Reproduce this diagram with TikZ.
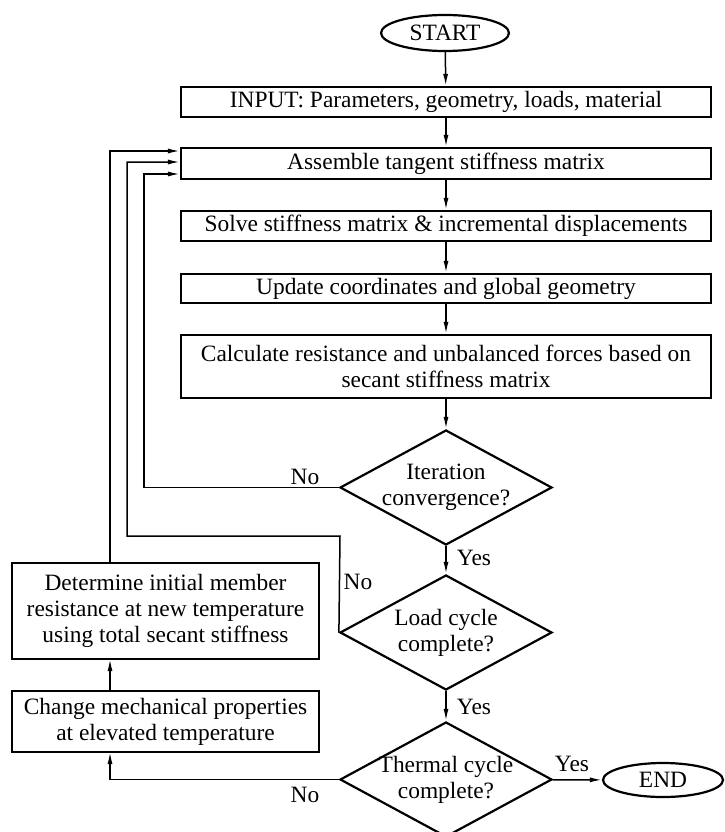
\documentclass[tikz,border=0pt]{standalone}
\usepackage{fontspec}
\setmainfont{Liberation Serif}
\usetikzlibrary{shapes.geometric,arrows.meta}
\begin{document}
\begin{tikzpicture}[x=1bp,y=-1bp,
  font=\fontsize{23.5}{26}\selectfont,
  box/.style={draw,line width=2.2bp,rectangle,inner sep=0pt,align=center},
  dia/.style={draw,line width=2.2bp,diamond,aspect=1.84,minimum width=212bp,minimum height=115bp,inner sep=-12bp,align=center},
  term/.style={draw,line width=2.2bp,ellipse,inner sep=0pt},
  conn/.style={line width=1.5bp},
  arr/.style={conn,-{Latex[length=12bp,width=5bp]}},
  lbl/.style={inner sep=0pt}]
\useasboundingbox (0,0) rectangle (725,832);
\node[term,minimum width=128bp,minimum height=36bp] (start) at (445,33) {START};
\node[box,minimum width=530bp,minimum height=30bp] (input) at (446,102) {INPUT: Parameters, geometry, loads, material};
\node[box,minimum width=530bp,minimum height=31bp] (assemble) at (446,163.5) {Assemble tangent stiffness matrix};
\node[box,minimum width=530bp,minimum height=30bp] (solve) at (446,226) {Solve stiffness matrix \& incremental displacements};
\node[box,minimum width=530bp,minimum height=29bp] (update) at (446,288.5) {Update coordinates and global geometry};
\node[box,minimum width=530bp,minimum height=63bp] (calc) at (446,366.5) {Calculate resistance and unbalanced forces based on\\secant stiffness matrix};
\node[dia] (iter) at (446,487.5) {Iteration\\convergence?};
\node[dia] (load) at (446,632.5) {Load cycle\\complete?};
\node[dia] (therm) at (446,779.5) {Thermal cycle\\complete?};
\node[term,minimum width=120bp,minimum height=34bp] (end) at (663,780) {END};
\node[box,minimum width=307bp,minimum height=96bp] (det) at (165.5,611) {Determine initial member\\resistance at new temperature\\using total secant stiffness};
\node[box,minimum width=307bp,minimum height=61bp] (chg) at (165.5,721.5) {Change mechanical properties\\at elevated temperature};

\draw[arr] (start) -- (input);
\draw[arr] (input) -- (assemble);
\draw[arr] (assemble) -- (solve);
\draw[arr] (solve) -- (update);
\draw[arr] (update) -- (calc);
\draw[arr] (calc) -- (iter);
\draw[arr] (iter) -- (load);
\draw[arr] (load) -- (therm);
\draw[arr] (therm) -- (end);

\coordinate (a1) at (144,487.5);
\coordinate (a2) at (144,174);
\draw[arr] (iter.west) -- (a1) -- (a2) -- (a2 -| assemble.west);
\coordinate (b0) at (340,536);
\coordinate (b1) at (127,536);
\coordinate (b2) at (127,162);
\draw[arr] (load.west) -- (b0) -- (b1) -- (b2) -- (b2 -| assemble.west);
\coordinate (c0) at (110,563);
\coordinate (c1) at (110,151);
\draw[arr] (c0) -- (c1) -- (c1 -| assemble.west);
\coordinate (d0) at (110,691);
\coordinate (d1) at (110,659);
\draw[arr] (d0) -- (d1);
\coordinate (e1) at (110,779.5);
\coordinate (e2) at (110,752);
\draw[arr] (therm.west) -- (e1) -- (e2);

\node[lbl] (no1) at (305,477) {No};
\node[lbl] (no2) at (358,582) {No};
\node[lbl] (no3) at (305,795) {No};
\node[lbl] (yes1) at (474,558) {Yes};
\node[lbl] (yes2) at (474,707) {Yes};
\node[lbl] (yes3) at (572,764) {Yes};
\end{tikzpicture}
\end{document}
